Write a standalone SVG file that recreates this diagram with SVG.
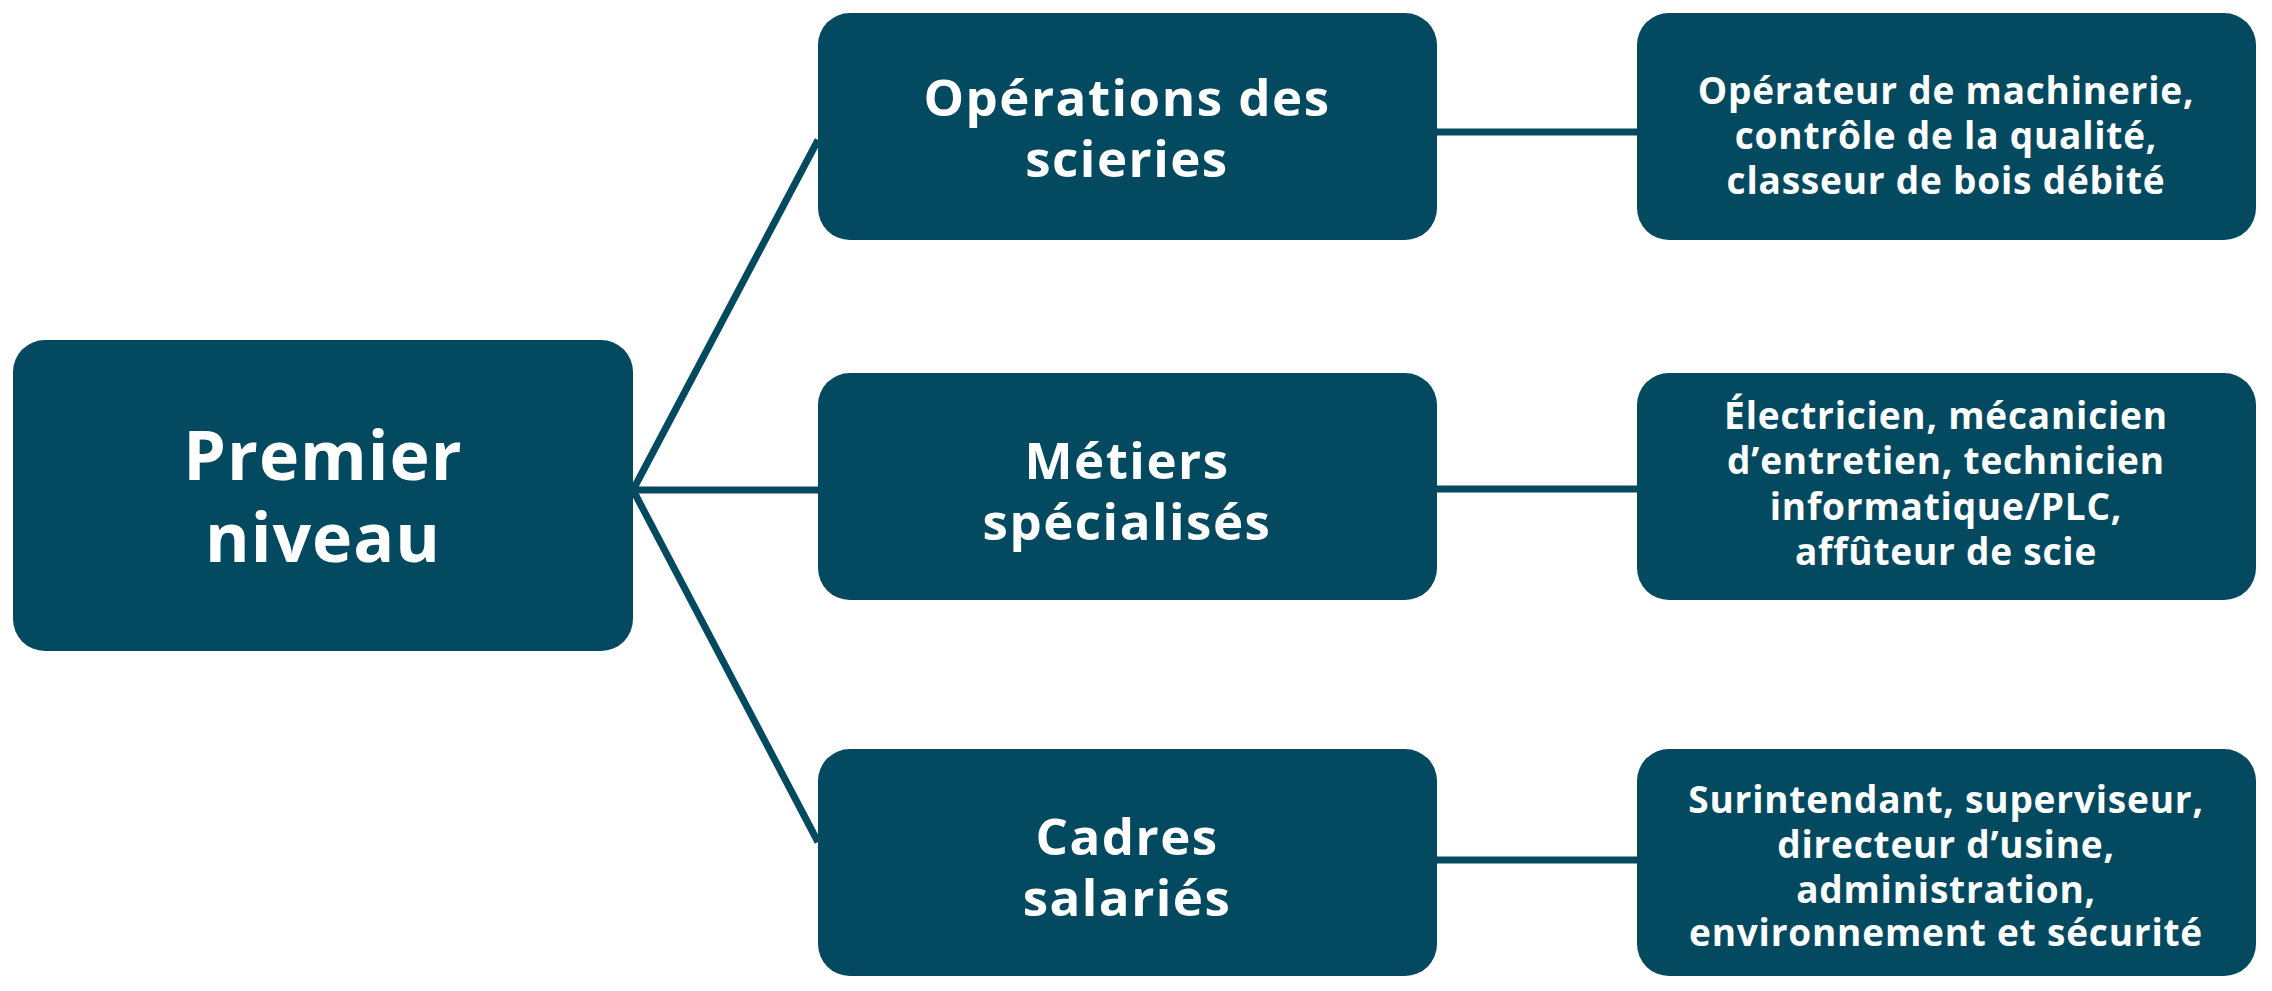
<svg xmlns="http://www.w3.org/2000/svg" width="2272" height="991" viewBox="0 0 2272 991">
<style>
.b{fill:#034a60}
.c{stroke:#034a60;stroke-width:7;fill:none}
text{fill:#fff;font-family:"Open Sans","Liberation Sans",sans-serif;font-weight:bold;text-anchor:middle;dominant-baseline:central}
.l{font-size:68px;letter-spacing:1px}.m{font-size:51px;letter-spacing:1.5px}.r{font-size:37px;letter-spacing:0.8px}
</style>
<rect width="2272" height="991" fill="#fff"/>
<g id="connectors">
<path class="c" d="M633 490 L818 140 M633 490 L818 490 M633 490 L818 842 M1437 132 L1637 132 M1437 489 L1637 489 M1437 860 L1637 860"/>
</g>
<g id="n0"><rect class="b" x="13" y="340" width="620" height="311" rx="32"/><text class="l" x="323" y="453">Premier</text><text class="l" x="323" y="535">niveau</text></g>
<g id="n1"><rect class="b" x="818" y="13" width="619" height="227" rx="32"/><text class="m" x="1127" y="96">Opérations des</text><text class="m" x="1127" y="157">scieries</text></g>
<g id="n2"><rect class="b" x="818" y="373" width="619" height="227" rx="32"/><text class="m" x="1127" y="459">Métiers</text><text class="m" x="1127" y="520">spécialisés</text></g>
<g id="n3"><rect class="b" x="818" y="749" width="619" height="227" rx="32"/><text class="m" x="1127" y="835">Cadres</text><text class="m" x="1127" y="896">salariés</text></g>
<g id="n4"><rect class="b" x="1637" y="13" width="619" height="227" rx="32"/><text class="r" x="1946" y="89">Opérateur de machinerie,</text><text class="r" x="1946" y="134">contrôle de la qualité,</text><text class="r" x="1946" y="179">classeur de bois débité</text></g>
<g id="n5"><rect class="b" x="1637" y="373" width="619" height="227" rx="32"/><text class="r" x="1946" y="414">Électricien, mécanicien</text><text class="r" x="1946" y="459">d’entretien, technicien</text><text class="r" x="1946" y="505">informatique/PLC,</text><text class="r" x="1946" y="550">affûteur de scie</text></g>
<g id="n6"><rect class="b" x="1637" y="749" width="619" height="227" rx="32"/><text class="r" x="1946" y="798">Surintendant, superviseur,</text><text class="r" x="1946" y="843">directeur d’usine,</text><text class="r" x="1946" y="888">administration,</text><text class="r" x="1946" y="931">environnement et sécurité</text></g>
</svg>
